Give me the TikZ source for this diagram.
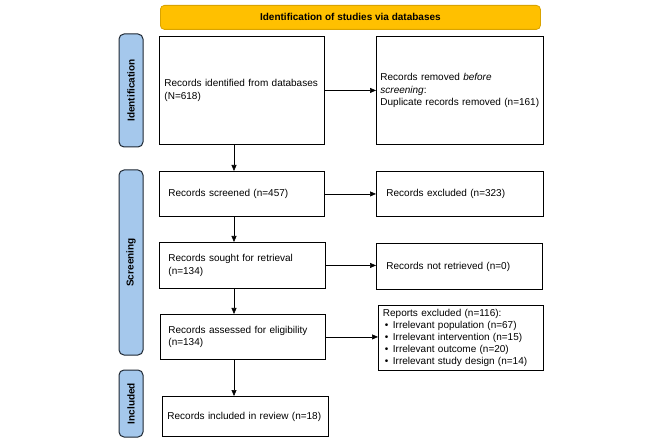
\documentclass[tikz,border=0pt]{standalone}
\usepackage{fontspec}
\setmainfont{Liberation Sans}
\usetikzlibrary{arrows.meta}
\definecolor{hdrfill}{HTML}{FFC000}
\definecolor{hdrline}{HTML}{D9A300}
\definecolor{phasefill}{HTML}{A5C8EC}
\definecolor{phaseline}{HTML}{1E2833}

\begin{document}
\begin{tikzpicture}[x=1pt, y=-1pt,
    font=\fontsize{10}{12.2}\selectfont,
    box/.style={draw, line width=0.9pt, anchor=north west, align=left, inner ysep=0pt},
    phase/.style={draw=phaseline, fill=phasefill, line width=1pt, rounded corners=5pt,
        rotate=90, minimum height=24pt, inner sep=0pt, font=\fontsize{10}{12}\selectfont\bfseries},
    arr/.style={-{Triangle[length=6pt, width=5pt]}, line width=0.6pt}]
    \useasboundingbox (0,0) rectangle (666,443);

    % header
    \node[draw=hdrline, fill=hdrfill, line width=0.8pt, rounded corners=4pt, anchor=north west,
        minimum width=380pt, minimum height=24pt, font=\fontsize{10}{12}\selectfont\bfseries]
        (hdr) at (160,5) {Identification of studies via databases};

    % phases
    \node[phase, minimum width=113pt] (pid) at (131,90.5) {Identification};
    \node[phase, minimum width=185pt] (pscr) at (131,262.5) {Screening};
    \node[phase, minimum width=67pt] (pinc) at (131,403.5) {Included};

    % left column
    \node[box, inner xsep=5pt, text width=155pt, minimum height=108pt] (ident) at (159,36)
        {Records identified from databases\\(N=618)};
    \node[box, inner xsep=9pt, text width=147pt, minimum height=45pt] (scrn) at (159,171)
        {Records screened (n=457)};
    \node[box, inner xsep=9pt, text width=148pt, minimum height=46pt] (sought) at (159,242)
        {Records sought for retrieval\\(n=134)};
    \node[box, inner xsep=8pt, text width=149pt, minimum height=45pt] (assess) at (160,314)
        {Records assessed for eligibility\\(n=134)};
    \node[box, inner xsep=5pt, text width=156pt, minimum height=40pt] (incl) at (162,396)
        {Records included in review (n=18)};

    % right column
    \node[box, inner xsep=4pt, text width=159pt, minimum height=108pt] (remov) at (376,36)
        {Records removed \textit{before}\\\textit{screening}:\\\mbox{Duplicate records removed (n=161)}};
    \node[box, inner xsep=10pt, text width=147pt, minimum height=45pt] (excl) at (376,171)
        {Records excluded (n=323)};
    \node[box, inner xsep=10pt, text width=146pt, minimum height=46pt] (notret) at (376,243)
        {Records not retrieved (n=0)};
    \node[box, inner xsep=4.5pt, text width=156pt, minimum height=65pt] (rept) at (378,305)
        {Reports excluded (n=116):\\
         \hspace*{2pt}\makebox[8pt][l]{\textbullet}Irrelevant population (n=67)\\
         \hspace*{2pt}\makebox[8pt][l]{\textbullet}Irrelevant intervention (n=15)\\
         \hspace*{2pt}\makebox[8pt][l]{\textbullet}Irrelevant outcome (n=20)\\
         \hspace*{2pt}\makebox[8pt][l]{\textbullet}Irrelevant study design (n=14)};

    % connectors
    \coordinate (vx) at (234,0);
    \draw[arr] (ident.south -| vx) -- (scrn.north -| vx);
    \draw[arr] (scrn.south -| vx) -- (sought.north -| vx);
    \draw[arr] (sought.south -| vx) -- (assess.north -| vx);
    \draw[arr] (assess.south -| vx) -- (incl.north -| vx);

    \draw[arr] (ident.east) -- (remov.west |- ident.east);
    \draw[arr] (scrn.east) -- (excl.west |- scrn.east);
    \draw[arr] (sought.east) -- (notret.west |- sought.east);
    \draw[arr] (assess.east) -- (rept.west |- assess.east);
\end{tikzpicture}
\end{document}
